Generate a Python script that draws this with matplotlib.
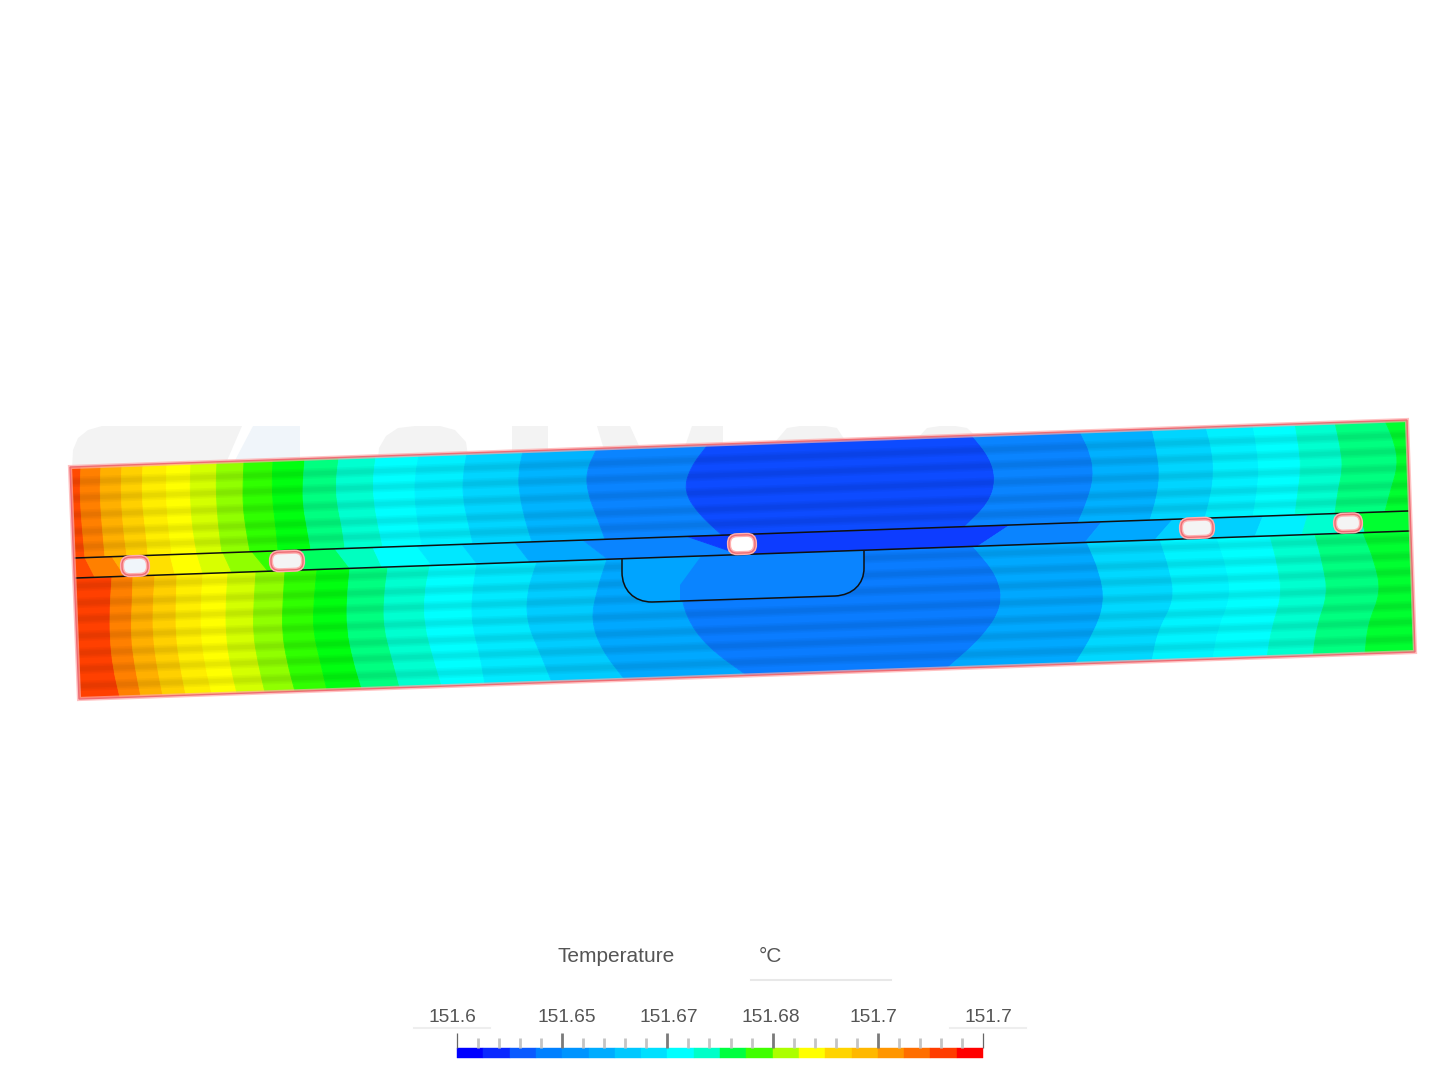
import numpy as np
import matplotlib
matplotlib.use("Agg")
import matplotlib.pyplot as plt
from matplotlib.patches import FancyBboxPatch, PathPatch, Polygon
from matplotlib.path import Path
from matplotlib.transforms import Affine2D

# outline of the plate, picture pixels
plate_x = [70, 1407, 1415, 79]
plate_y = [467, 420, 652, 699]
line_upper = [(75, 558), (1408, 511)]
line_lower = [(76, 578), (1409, 531)]

# isotherms, x at evenly spaced heights across each strip
top_contours = [
    [81, 80, 81, 83, 85], [101, 100, 101, 103, 105], [122, 121, 122, 124, 127],
    [143, 142, 143, 146, 148], [167, 166, 167, 169, 172], [191, 190, 191, 193, 197],
    [217, 216, 217, 219, 222], [244, 243, 243, 246, 250], [273, 272, 273, 276, 278],
    [305, 303, 303, 307, 311], [339, 336, 337, 342, 345], [376, 373, 374, 378, 383],
    [419, 415, 415, 418, 422], [467, 463, 463, 468, 473], [523, 518, 520, 525, 532],
    [597, 586, 588, 597, 605], [708, 690, 684, 698, 722], [972, 990, 996, 989, 965],
    [1080, 1091, 1094, 1088, 1078], [1152, 1157, 1160, 1157, 1150], [1206, 1212, 1214, 1211, 1205],
    [1253, 1257, 1259, 1257, 1253], [1295, 1299, 1301, 1298, 1295], [1335, 1340, 1343, 1338, 1335],
    [1385, 1395, 1398, 1391, 1385],
]
top_colors = ["#ff4a00", "#ff8000", "#ffb000", "#ffd000", "#ffee00", "#ffff00", "#d4ff00",
              "#90ff00", "#30ff00", "#00ff10", "#00ff80", "#00ffd0", "#00ffff", "#00f0ff",
              "#00d5ff", "#00b4ff", "#0a84ff", "#0d4bff", "#0a84ff", "#00b0ff", "#00d5ff",
              "#00f0ff", "#00ffff", "#00ffd0", "#00ff80", "#00ff30"]

mid_contours = [
    [85, 95], [112, 125], [135, 150], [170, 175], [197, 203], [223, 232], [252, 268],
    [290, 300], [335, 350], [373, 382], [417, 432], [462, 477], [515, 530], [583, 608],
    [687, 740], [1010, 978], [1102, 1085], [1173, 1155], [1263, 1255], [1308, 1302], [1360, 1365],
]
mid_colors = ["#ff4a00", "#ff8000", "#ffb000", "#ffe000", "#ffff00", "#d8ff00", "#90ff00",
              "#30ff00", "#00ff60", "#00ffc0", "#00ffff", "#00e8ff", "#00ccff", "#00a8ff",
              "#0a84ff", "#0d3cff", "#0a84ff", "#00a8ff", "#00d0ff", "#00f0ff", "#00ffd0", "#00ff30"]

bottom_contours = [
    [112, 110, 110, 113, 120], [133, 132, 131, 135, 141], [155, 153, 153, 157, 163],
    [177, 176, 176, 180, 186], [203, 201, 201, 205, 212], [228, 226, 226, 230, 237],
    [256, 254, 253, 258, 265], [285, 283, 282, 287, 295], [317, 314, 313, 320, 327],
    [350, 347, 347, 353, 362], [388, 384, 384, 392, 400], [430, 424, 425, 433, 442],
    [477, 472, 472, 480, 485], [537, 527, 527, 540, 552], [607, 597, 591, 602, 625],
    [707, 680, 686, 707, 747], [973, 998, 1003, 983, 947], [1087, 1100, 1105, 1094, 1075],
    [1160, 1170, 1175, 1158, 1152], [1217, 1227, 1231, 1218, 1213], [1270, 1278, 1282, 1272, 1267],
    [1315, 1323, 1328, 1317, 1313], [1363, 1375, 1381, 1368, 1365],
]
bottom_colors = ["#ff4000", "#ff8000", "#ffb000", "#ffd000", "#ffee00", "#ffff00", "#d4ff00",
                 "#90ff00", "#30ff00", "#00ff10", "#00ff80", "#00ffd0", "#00ffff", "#00eaff",
                 "#00ccff", "#00a8ff", "#0a7cff", "#00a8ff", "#00d8ff", "#00f4ff", "#00ffff",
                 "#00ffd0", "#00ff80", "#00ff30"]

# dark stripes, px from the upper edge of their strip
top_stripes = [15, 31, 48, 65, 80]
bottom_stripes = [8, 25, 41, 58, 75, 91, 108]

# cutouts
holes_x = [135, 287, 742, 1197, 1348]
holes_y = [566, 561, 544, 528, 523]
holes_w = [26, 32, 26, 32, 26]
holes_h = [18, 18, 18, 18, 17]
holes_fill = ["#f0f5fa", "#f4f4f4", "#ffffff", "#f4f4f4", "#f4f4f4"]

# colour bar
bar_colors = ["#0000ff", "#0a28ff", "#0a5aff", "#0080ff", "#0094ff", "#00acff", "#00c8ff",
              "#00e0ff", "#00ffff", "#00ffc8", "#00ff40", "#40ff00", "#acff00", "#ffff00",
              "#ffd400", "#ffb800", "#ff9600", "#ff6e00", "#ff3c00", "#ff0000"]
tick_labels = ["151.6", "151.65", "151.67", "151.68", "151.7", "151.7"]
label_x = [452, 567, 669, 771, 873, 988]

plt.rcParams["font.family"] = ["Liberation Sans", "DejaVu Sans"]
fig = plt.figure(figsize=(14.4, 10.8), dpi=100)
ax = fig.add_axes([0, 0, 1, 1])
ax.set_xlim(0, 1440)
ax.set_ylim(1080, 0)
ax.axis("off")


def edge(points, x):
    (x0, y0), (x1, y1) = points
    return y0 + (np.asarray(x, float) - x0) * (y1 - y0) / (x1 - x0)


edge_top = [(plate_x[0], plate_y[0]), (plate_x[1], plate_y[1])]
edge_bottom = [(plate_x[3], plate_y[3]), (plate_x[2], plate_y[2])]


# rounded run through the contour points, bends become quadratic curves
def rounded(px, py):
    verts = []
    codes = []
    for i in range(1, len(px) - 1):
        mid_in = ((px[i - 1] + px[i]) / 2, (py[i - 1] + py[i]) / 2)
        mid_out = ((px[i] + px[i + 1]) / 2, (py[i] + py[i + 1]) / 2)
        if i == 1:
            verts.append(mid_in)
            codes.append(Path.LINETO)
        verts += [(px[i], py[i]), mid_out]
        codes += [Path.CURVE3, Path.CURVE3]
    verts.append((px[-1], py[-1]))
    codes.append(Path.LINETO)
    return verts, codes


def draw_bands(contours, colors, upper, lower, clip):
    n = len(contours[0])
    v = np.linspace(0, 1, n)
    xs = [[0] * n] + contours + [[1440] * n]
    for i, c in enumerate(colors):
        lx = np.array(xs[i], float)
        rx = np.array(xs[i + 1], float)
        ly = edge(upper, lx) + v * (edge(lower, lx) - edge(upper, lx))
        ry = edge(upper, rx) + v * (edge(lower, rx) - edge(upper, rx))
        v1, c1 = rounded(lx, ly)
        v2, c2 = rounded(rx[::-1], ry[::-1])
        verts = [(lx[0], ly[0])] + v1 + [(rx[-1], ry[-1])] + v2 + [(lx[0], ly[0])]
        codes = [Path.MOVETO] + c1 + [Path.LINETO] + c2 + [Path.CLOSEPOLY]
        p = PathPatch(Path(verts, codes), fc=c, ec=c, lw=0.6, zorder=2)
        ax.add_patch(p)
        p.set_clip_path(clip)


# watermark behind the plate
wm_grey = "#f3f3f3"
wm_shapes = [
    [(72, 470), (73, 450), (78, 438), (88, 430), (102, 426), (242, 426), (223, 470)],
    [(377, 470), (379, 448), (386, 436), (398, 428), (415, 426), (440, 426), (455, 430), (466, 442), (470, 470)],
    [(512, 426), (548, 426), (548, 470), (512, 470)],
    [(597, 426), (630, 426), (650, 470), (610, 470)],
    [(677, 470), (692, 426), (723, 426), (723, 470)],
    [(772, 470), (775, 442), (787, 428), (800, 426), (825, 426), (837, 428), (848, 445), (850, 470)],
    [(910, 470), (914, 442), (927, 428), (940, 426), (955, 426), (967, 428), (978, 438), (983, 470)],
]
for shape in wm_shapes:
    ax.add_patch(Polygon(shape, fc=wm_grey, ec="none", zorder=1))
ax.add_patch(Polygon([(253, 426), (300, 426), (300, 470), (230, 470)], fc="#f0f5fa", ec="none", zorder=1))

plate = Polygon(list(zip(plate_x, plate_y)), closed=True, transform=ax.transData)
draw_bands(top_contours, top_colors, edge_top, line_upper, plate)
draw_bands(bottom_contours, bottom_colors, line_lower, edge_bottom, plate)
draw_bands(mid_contours, mid_colors, line_upper, line_lower, plate)

# soft shading stripes on the two big strips
stripe_xs = np.array([40, 1440])
for guide, offsets in ((edge_top, top_stripes), (line_lower, bottom_stripes)):
    for off in offsets:
        for width in (7.5, 5.2, 3):
            ln, = ax.plot(stripe_xs, edge(guide, stripe_xs) + off, color="k", lw=width,
                          alpha=0.03, solid_capstyle="butt", zorder=3)
            ln.set_clip_path(plate)

# pocket below the lower line
pocket_verts = [(622, 559), (622, 572), (622, 590), (634, 602), (652, 602), (835, 596),
                (853, 595), (864, 584), (864, 568), (864, 551)]
pocket_codes = [Path.MOVETO, Path.LINETO, Path.CURVE4, Path.CURVE4, Path.CURVE4, Path.LINETO,
                Path.CURVE4, Path.CURVE4, Path.CURVE4, Path.LINETO]
pocket_path = Path(pocket_verts, pocket_codes)
pocket = PathPatch(pocket_path, fc="#00a4ff", ec="none", zorder=4)
ax.add_patch(pocket)
pocket_right = ax.fill([707, 680, 680, 880, 880], [548, 585, 610, 610, 540], color="#0a84ff", lw=0, zorder=4.1)[0]
pocket_right.set_clip_path(pocket)
ax.add_patch(PathPatch(pocket_path, fc="none", ec="#101010", lw=1.1, zorder=6))

for pts in (line_upper, line_lower):
    ax.plot([pts[0][0], pts[1][0]], [pts[0][1], pts[1][1]], color="#101010", lw=1.1, zorder=6)

# plate border with a soft glow
ax.add_patch(Polygon(list(zip(plate_x, plate_y)), closed=True, fc="none", ec="#ffa8a8", lw=3, alpha=0.7, zorder=7))
ax.add_patch(Polygon(list(zip(plate_x, plate_y)), closed=True, fc="none", ec="#ee6c74", lw=1, zorder=8))

for cx, cy, w, h, fill in zip(holes_x, holes_y, holes_w, holes_h, holes_fill):
    rot = Affine2D().rotate_deg_around(cx, cy, -2) + ax.transData
    ax.add_patch(FancyBboxPatch((cx - w / 2 + 4, cy - h / 2 + 4), w - 8, h - 8,
                                boxstyle="round,pad=4,rounding_size=8", fc=fill, ec="#ffb0b0",
                                lw=3, transform=rot, zorder=9))
    ax.add_patch(FancyBboxPatch((cx - w / 2 + 4, cy - h / 2 + 4), w - 8, h - 8,
                                boxstyle="round,pad=4,rounding_size=8", fc="none", ec="#ee6c74",
                                lw=1, transform=rot, zorder=10))

# legend
text_col = "#555555"
ax.text(557, 957, "Temperature", fontsize=15, color=text_col, va="center", ha="left")
ax.text(759, 957, "°C", fontsize=15, color=text_col, va="center", ha="left")
ax.plot([751, 891], [980, 980], color="#e8e8e8", lw=1.5)
ax.plot([414, 490], [1028, 1028], color="#eeeeee", lw=1.5)
ax.plot([950, 1026], [1028, 1028], color="#eeeeee", lw=1.5)

bar_edges = np.linspace(457, 983, len(bar_colors) + 1)
for i, c in enumerate(bar_colors):
    ax.fill_between([bar_edges[i], bar_edges[i + 1]], 1048, 1058, color=c, lw=0.3, zorder=2)
ticks = np.linspace(457, 983, 26)
for i, t in enumerate(ticks):
    if i in (0, 25):
        ax.plot([t, t], [1033, 1048], color="#666666", lw=0.9, solid_capstyle="butt")
    elif i % 5 == 0:
        ax.plot([t, t], [1033, 1048], color="#7a7a7a", lw=2, solid_capstyle="butt")
    else:
        ax.plot([t, t], [1038, 1048], color="#c4c4c4", lw=2, solid_capstyle="butt")
for x, lab in zip(label_x, tick_labels):
    ax.text(x, 1018, lab, fontsize=13.8, color=text_col, ha="center", va="center")

fig.savefig("out.png", dpi=100)
